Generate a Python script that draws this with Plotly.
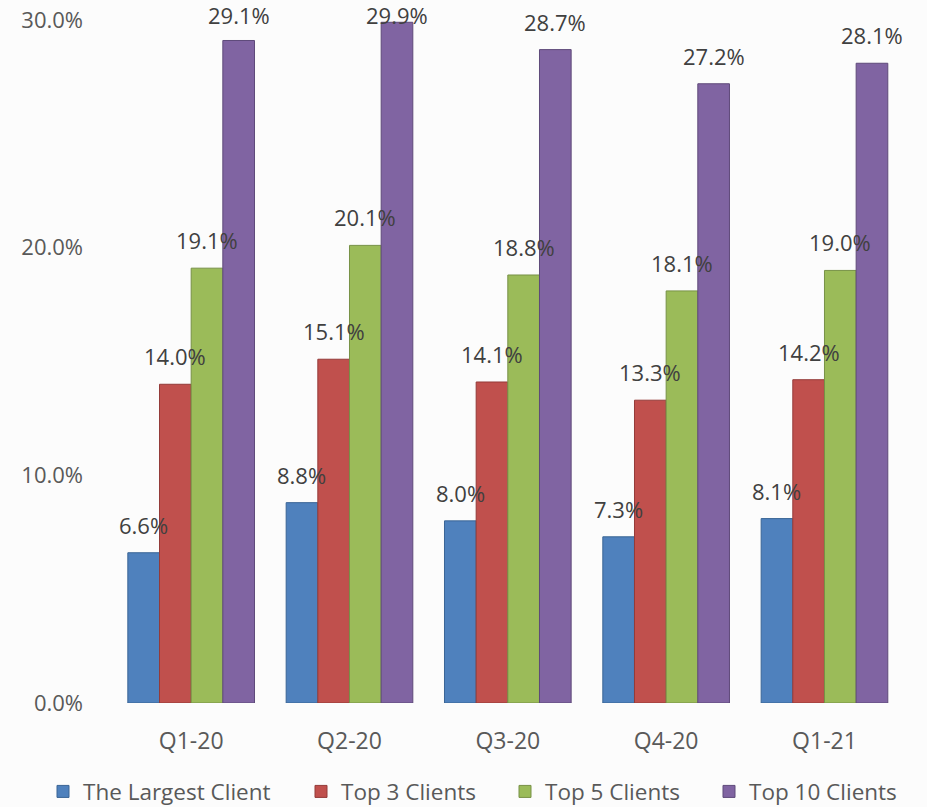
import plotly.graph_objects as go

categories = ["Q1-20", "Q2-20", "Q3-20", "Q4-20", "Q1-21"]
series_names = ["The Largest Client", "Top 3 Clients", "Top 5 Clients", "Top 10 Clients"]
largest = [6.6, 8.8, 8.0, 7.3, 8.1]
top3 = [14.0, 15.1, 14.1, 13.3, 14.2]
top5 = [19.1, 20.1, 18.8, 18.1, 19.0]
top10 = [29.1, 29.9, 28.7, 27.2, 28.1]
y_tick_vals = [0, 10, 20, 30]
y_tick_text = ["0.0%", "10.0%", "20.0%", "30.0%"]

colors = ["#4F81BD", "#C0504D", "#9BBB59", "#8064A2"]
edge_colors = ["#3A6595", "#943B39", "#779146", "#5F4A7A"]
legend_px = [43, 301, 505, 709]

FONT = "Open Sans, sans-serif"
W, H = 927, 807
L, R, T, B = 112, 23, 20, 104
plot_w = W - L - R
plot_h = H - T - B
y_max = 30
bargap = 0.2
bar_px = plot_w / len(categories) * (1 - bargap) / len(series_names)

fig = go.Figure()
all_vals = [largest, top3, top5, top10]
for i, (name, vals, c, ec) in enumerate(zip(series_names, all_vals, colors, edge_colors)):
    fig.add_trace(go.Bar(
        name=name, x=categories, y=vals,
        marker=dict(color=c, line=dict(color=ec, width=1)),
        legend="legend" if i == 0 else f"legend{i+1}",
        hoverinfo="skip",
    ))
    for cat, v in zip(categories, vals):
        bar_top_px = T + (y_max - v) / y_max * plot_h
        ysh = min(12, bar_top_px - 30.5)  # keep label inside the page at the top
        fig.add_annotation(
            x=cat, y=v, xref="x", yref="y",
            text=f"{v:.1f}%", showarrow=False,
            xanchor="center", yanchor="bottom",
            xshift=(i - 1.5) * bar_px, yshift=ysh, borderpad=0,
            font=dict(family=FONT, size=22, color="#404040"),
        )

legend_common = dict(
    orientation="h", xanchor="left", y=-0.130, yanchor="middle",
    font=dict(family=FONT, size=22.5, color="#595959"),
    bgcolor="rgba(0,0,0,0)", borderwidth=0,
)
legends = {}
for i, px in enumerate(legend_px):
    key = "legend" if i == 0 else f"legend{i+1}"
    legends[key] = dict(legend_common, x=(px - L) / plot_w)

fig.update_layout(
    barmode="group",
    bargap=bargap,
    bargroupgap=0,
    width=W, height=H,
    paper_bgcolor="#FCFCFC",
    plot_bgcolor="#FCFCFC",
    margin=dict(l=L, r=R, t=T, b=B, autoexpand=False),
    font=dict(family=FONT, size=20, color="#595959"),
    showlegend=True,
    **legends,
)
fig.update_xaxes(showgrid=False, showline=False, ticks="", ticklabelstandoff=22,
                 tickfont=dict(family=FONT, size=23, color="#595959"))
fig.update_yaxes(range=[0, y_max], tickvals=y_tick_vals, ticktext=y_tick_text,
                 showgrid=False, zeroline=False, showline=False, ticks="", ticklabelstandoff=28,
                 ticklabeloverflow="allow",
                 tickfont=dict(family=FONT, size=22, color="#595959"))

post = "document.body.style.margin='0';document.body.style.background='#FCFCFC';"
fig.write_html("out.html", post_script=post, config={"displayModeBar": False})
